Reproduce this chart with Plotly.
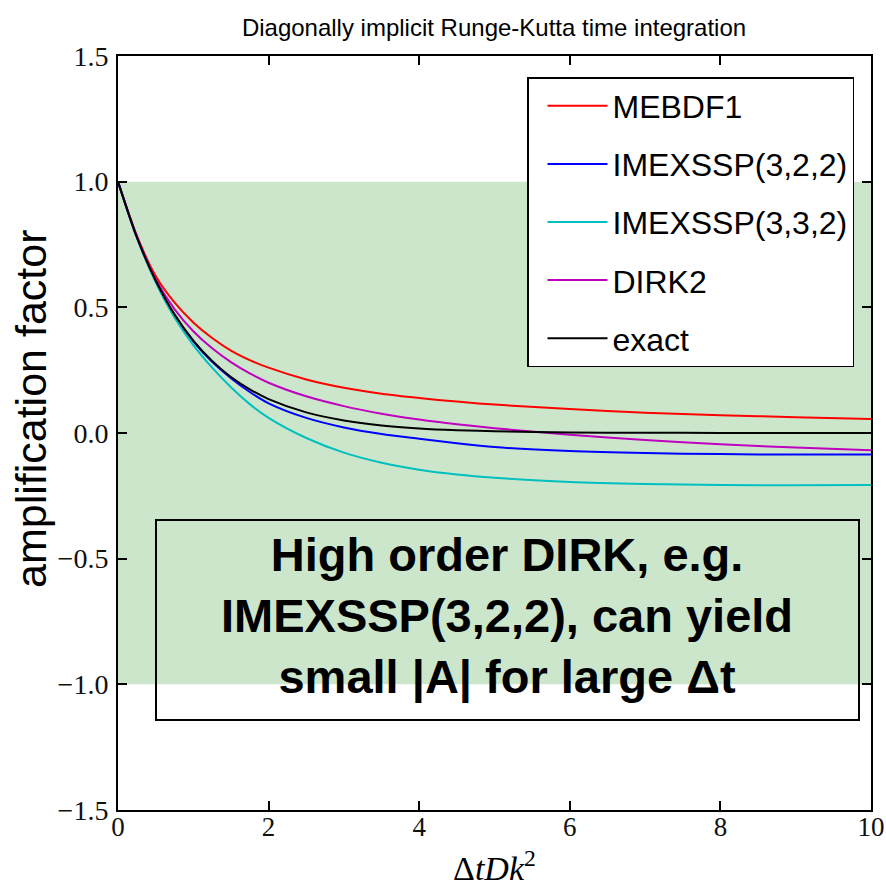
import plotly.graph_objects as go

# ---- data ----
x_vals = [0, 0.25, 0.5, 0.75, 1.0, 1.25, 1.5, 1.75, 2.0, 2.5, 3.0, 3.5, 4.0, 4.5, 5.0, 6.0, 7.0, 8.0, 9.0, 10.0]

mebdf1 = [1.0, 0.785, 0.625, 0.52, 0.44, 0.378, 0.328, 0.29, 0.26, 0.213, 0.18, 0.156, 0.139, 0.125, 0.113, 0.095, 0.081, 0.071, 0.063, 0.056]
imexssp322 = [1.0, 0.779, 0.606, 0.47, 0.365, 0.283, 0.218, 0.163, 0.118, 0.06, 0.022, -0.004, -0.023, -0.041, -0.056, -0.072, -0.08, -0.084, -0.086, -0.086]
imexssp332 = [1.0, 0.777, 0.6, 0.46, 0.35, 0.26, 0.182, 0.115, 0.06, -0.02, -0.078, -0.118, -0.146, -0.165, -0.178, -0.195, -0.203, -0.207, -0.208, -0.207]
dirk2 = [1.0, 0.782, 0.612, 0.493, 0.405, 0.337, 0.282, 0.237, 0.2, 0.146, 0.107, 0.077, 0.054, 0.035, 0.019, -0.007, -0.028, -0.045, -0.058, -0.069]
exact = [1.0, 0.779, 0.607, 0.472, 0.368, 0.287, 0.223, 0.174, 0.135, 0.082, 0.05, 0.03, 0.018, 0.011, 0.007, 0.002, 0.001, 0.0003, 0.0001, 0.0]

series_names = ["MEBDF1", "IMEXSSP(3,2,2)", "IMEXSSP(3,3,2)", "DIRK2", "exact"]
series_vals = [mebdf1, imexssp322, imexssp332, dirk2, exact]
series_colors = ["#ff0000", "#0000ff", "#00bfbf", "#bf00bf", "#000000"]

x_ticks = [0, 2, 4, 6, 8, 10]
y_ticks = [1.5, 1.0, 0.5, 0.0, -0.5, -1.0, -1.5]

W, H = 886, 887
L, R, T, B = 118, 15, 56, 77
PW, PH = W - L - R, H - T - B

def px_x(p):  # pixel -> paper x
    return (p - L) / PW

def px_y(p):  # pixel -> paper y
    return (H - B - p) / PH

fig = go.Figure()
for i, (name, vals, col) in enumerate(zip(series_names, series_vals, series_colors)):
    fig.add_trace(go.Scatter(
        x=x_vals, y=vals, mode="lines", name=name,
        line=dict(color=col, width=2, shape="spline", smoothing=0.8),
        legendgroup="g%d" % i,
    ))

sans = "Liberation Sans, Arial, sans-serif"
serif = "Liberation Serif, Times New Roman, serif"

# stability band
fig.add_shape(type="rect", xref="x", yref="y", x0=0, x1=10, y0=-1, y1=1,
              fillcolor="rgba(0,128,0,0.2)", line=dict(width=0), layer="below")
# text box
fig.add_shape(type="rect", xref="paper", yref="paper",
              x0=px_x(156), x1=px_x(859), y0=px_y(720), y1=px_y(520),
              fillcolor="rgba(0,0,0,0)", line=dict(color="black", width=2), layer="above")

fig.add_annotation(xref="paper", yref="paper", x=px_x(507), y=px_y(615),
                   text="High order DIRK, e.g.<br>IMEXSSP(3,2,2), can yield<br>small |A| for large Δt",
                   showarrow=False, xanchor="center", yanchor="middle",
                   font=dict(family=sans, size=47, color="black", weight="bold"))

fig.add_annotation(xref="paper", yref="paper", x=px_x(31), y=px_y(409),
                   text="amplification factor", textangle=-90, showarrow=False,
                   xanchor="center", yanchor="middle",
                   font=dict(family=sans, size=43, color="black"))

fig.add_annotation(xref="paper", yref="paper", x=px_x(494), y=px_y(866),
                   text="Δ<i>tDk</i><sup>2</sup>", showarrow=False,
                   xanchor="center", yanchor="middle",
                   font=dict(family=serif, size=34, color="black"))

fig.update_layout(
    width=W, height=H,
    margin=dict(l=L, r=R, t=T, b=B),
    paper_bgcolor="white", plot_bgcolor="white",
    title=dict(text="Diagonally implicit Runge-Kutta time integration",
               x=px_x(494), xref="paper", xanchor="center",
               y=1 - 28 / H, yref="container", yanchor="middle",
               font=dict(family=sans, size=24, color="black")),
    showlegend=True,
    legend=dict(x=px_x(527), y=px_y(77), xanchor="left", yanchor="top",
                bgcolor="white", bordercolor="black", borderwidth=1.5,
                font=dict(family=sans, size=32, color="black"),
                tracegroupgap=13.5, itemwidth=60, indentation=14),
)

fig.update_xaxes(range=[0, 10], tickvals=x_ticks, ticktext=[str(v) for v in x_ticks],
                 ticks="inside", ticklen=9, tickwidth=1.5, tickcolor="black",
                 showline=True, linecolor="black", linewidth=2, mirror="ticks",
                 showgrid=False, zeroline=False, automargin=False,
                 ticklabelstandoff=-8, ticklabeloverflow="allow",
                 tickfont=dict(family=serif, size=27, color="#111"))
fig.update_yaxes(range=[-1.5, 1.5], tickvals=y_ticks, tickformat=".1f",
                 ticks="inside", ticklen=9, tickwidth=1.5, tickcolor="black",
                 showline=True, linecolor="black", linewidth=2, mirror="ticks",
                 showgrid=False, zeroline=False, ticklabelstandoff=2, automargin=False,
                 ticklabeloverflow="allow",
                 tickfont=dict(family=serif, size=28, color="#111"))

fig.write_html("out.html")
